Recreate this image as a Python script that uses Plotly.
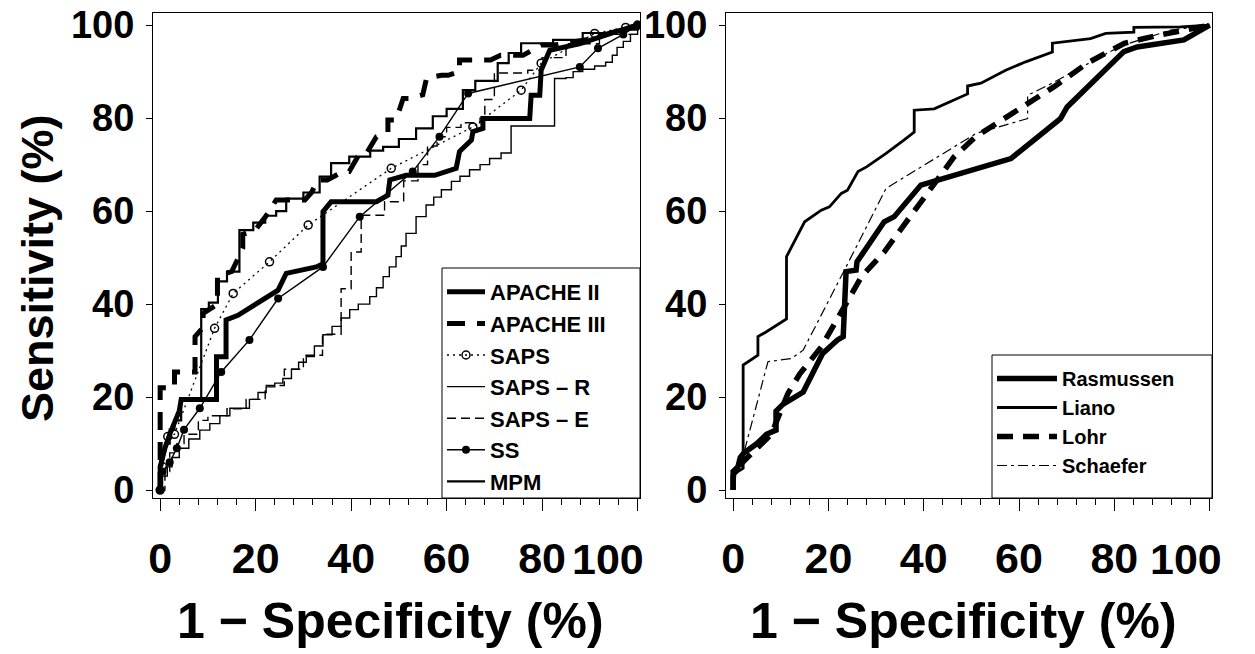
import plotly.graph_objects as go

# ---------------- data ----------------
tick_vals = [0, 20, 40, 60, 80, 100]
tick_text = ["0", "20", "40", "60", "80", "100"]

# Left panel
apache2_x = [0, 0, 1, 2, 4, 4.4, 11.8, 11.8, 13.8, 13.8, 16.3, 24.7, 26.4, 32.7, 34.1, 34.1, 35.8, 45.3, 47.7, 48.1, 51.5, 57.5, 62, 62.7, 65.2, 65.5, 67.6, 67.6, 77.4, 77.7, 79.5, 79.8, 81.6, 88, 95.5, 100]
apache2_y = [0, 5, 9, 12, 17, 19.5, 19.5, 28.7, 28.7, 36.6, 37.6, 43, 46.6, 48, 48.7, 59.9, 62, 62, 63.4, 66.7, 67.7, 67.7, 69.2, 72.8, 75.3, 77.1, 77.8, 79.9, 79.9, 84.9, 84.9, 90.3, 94.6, 96, 98.6, 100]

apache3_x = [0, 0, 3, 3, 7.3, 7.3, 9, 9, 12, 12, 15, 17.3, 17.3, 20, 22.2, 24.3, 30.3, 31.7, 33, 35, 38.3, 39.6, 41.8, 43.2, 45.3, 47.7, 47.7, 49.4, 50.9, 52.2, 55, 55.8, 58.9, 60.3, 62.7, 62.7, 64.8, 69.2, 71.3, 76, 79.8, 82.5, 90, 95, 100]
apache3_y = [0, 22, 22, 25.4, 25.4, 33, 35, 38, 40, 46, 47, 52, 55, 56, 59, 62.4, 62.4, 64, 66.7, 66.7, 68.5, 68.5, 72.4, 72.4, 76, 77, 79.6, 79.6, 84.2, 84.2, 85, 88.6, 89.2, 89.2, 90, 92.5, 92.5, 92.5, 93.5, 93.5, 95.7, 95.7, 97, 98.5, 100]

saps_x = [0, 0.5, 1.6, 3, 11.4, 15.3, 22.9, 31, 48.4, 65.5, 75.6, 79.8, 91, 97.5, 100]
saps_y = [0, 5, 11.5, 12, 34.8, 42.3, 49.1, 57, 69.2, 78.1, 86, 91.8, 98.2, 99.5, 100]

sapsr_x = [0, 0.5, 1.5, 2.5, 4, 6, 8.3, 10.4, 12.5, 14.6, 18.7, 20.5, 22.2, 24, 25.7, 27.5, 29, 30.6, 32.3, 34.1, 36, 37.9, 39.7, 41.5, 43.9, 45.3, 46.7, 48, 49.4, 50.5, 51.5, 53.6, 55.7, 57.3, 58.9, 61, 62.8, 64.8, 67, 69, 71.4, 73.5, 82.6, 85, 86.5, 88.5, 91, 93.3, 94.7, 95.7, 97, 98.5, 100]
sapsr_y = [0, 3, 5, 7, 9, 11, 12.9, 14.3, 16, 17.6, 19.5, 21, 22.2, 23, 24, 26, 27.5, 28.7, 31, 33.4, 35.2, 37, 38.8, 40, 41.6, 43.5, 45.9, 48, 50.2, 52.5, 55.2, 58.8, 61.3, 63, 64.6, 66.4, 67.5, 68.9, 70, 71.3, 72.5, 78.3, 88.5, 88.7, 90, 90.5, 91.2, 92, 93.5, 95.2, 96.5, 98, 100]

sapse_x = [0, 1, 2, 3.5, 5, 8, 10, 14, 18, 22, 26, 30, 34, 37.9, 37.9, 40, 40, 42.1, 42.1, 47, 51, 54, 56, 58, 60, 63, 67, 68, 70, 77, 80, 85, 92, 100]
sapse_y = [0, 4, 8, 10, 12, 15, 16, 17.5, 19.5, 22.5, 26, 29, 33.5, 36.9, 43.3, 43.3, 51.2, 51.2, 59.1, 62, 66.5, 70, 74, 76, 78, 79, 80, 84, 89.7, 90.3, 93, 96, 98, 100]

ss_x = [0, 0.5, 2, 3.5, 5, 8.3, 12.8, 18.7, 24.7, 34.1, 41.8, 52.9, 58.5, 64.5, 87.9, 91.7, 97, 100]
ss_y = [0, 4, 6, 9, 13, 17.6, 25.4, 32.3, 41.2, 48, 58.8, 68.5, 76, 85.3, 91, 95, 98, 100]

mpm_x = [0, 0, 1, 2, 3, 4.4, 8.6, 10.2, 12.1, 14, 16.6, 19.5, 22, 24.3, 26.4, 30, 33.4, 35.8, 39.6, 44, 46.7, 50, 53.6, 57.1, 60, 63.4, 66, 70.7, 73, 75.6, 82.3, 88.5, 95.5, 100]
mpm_y = [0, 8, 10, 13, 15, 19.3, 38.9, 40.3, 44.9, 47, 55.9, 57.5, 59, 60, 62.7, 64, 67.4, 70.3, 71.7, 73, 73.8, 75.5, 77.8, 80.4, 82, 86, 88, 91.8, 94, 96.1, 96.8, 98.3, 99, 100]

# Right panel
ras_x = [0, 0, 0.5, 1, 1.5, 2.2, 5, 7, 9, 9, 10.5, 14.7, 18.8, 21.9, 23.1, 23.7, 25.8, 26, 31.7, 33.8, 39.4, 58.3, 68.7, 70.1, 82, 84.8, 94.6, 100]
ras_y = [0, 4, 4.5, 5, 7, 7.9, 10, 12, 12.9, 17, 18.5, 21.1, 29.4, 32.3, 33, 47, 47.3, 49.1, 57.7, 58.8, 65.6, 71.3, 79.9, 82.4, 94.3, 95.3, 96.8, 100]

liano_x = [0, 0, 1, 2.1, 2.1, 5.2, 5.2, 6.9, 11.2, 11.2, 15, 18.5, 20.2, 22.7, 24, 26.2, 28, 32.1, 35.9, 38, 38, 42.2, 49.2, 49.2, 52, 57.2, 61.4, 67, 67, 75, 78.2, 84.1, 84.1, 93.9, 100]
liano_y = [0, 3, 4, 4.7, 26.9, 29, 33, 34, 36.8, 50.2, 57.7, 60.2, 60.9, 63.8, 64.5, 68.5, 69.5, 72.4, 75.3, 77, 81.7, 82, 85.2, 86.9, 87.5, 90.3, 92.1, 94.2, 96.1, 97.1, 98.2, 98.5, 99.5, 99.6, 100]

lohr_x = [0, 0, 2, 5, 8, 11.5, 14, 18.5, 21.9, 24.8, 27, 31.7, 35.9, 42.2, 46.4, 50.9, 60.4, 67.3, 74.3, 82.1, 88.3, 100]
lohr_y = [0, 3, 6, 9, 12, 20.8, 25, 30.8, 36.9, 42.6, 46, 51.2, 57, 66, 71.7, 76, 82.4, 86.7, 91.8, 96.1, 97.6, 100]

schaefer_x = [0, 0, 2, 7.3, 12.2, 14.7, 23.7, 32.1, 51, 61.8, 61.8, 67.3, 81.3, 91.8, 100]
schaefer_y = [0, 3, 7, 27.6, 28.3, 30.1, 48, 64.9, 76.7, 79.9, 84.9, 87.7, 95.5, 98.9, 100]

# ---------------- figure ----------------
FONT = "Liberation Sans, Arial, Helvetica, sans-serif"
BLK = "black"
XTF = 43

fig = go.Figure()

def add(x, y, name, xa, ya, legend, width, dash="solid", shape="linear", marker=None):
    kw = dict(x=x, y=y, name=name, xaxis=xa, yaxis=ya, legend=legend,
              line=dict(color=BLK, width=width, dash=dash, shape=shape),
              mode="lines" if marker is None else "lines+markers")
    if marker is not None:
        kw["marker"] = marker
    fig.add_trace(go.Scatter(**kw))

add(apache2_x, apache2_y, "APACHE II", "x", "y", "legend", 5)
add(apache3_x, apache3_y, "APACHE III", "x", "y", "legend", 5, dash="18px,12px")
add(saps_x, saps_y, "SAPS", "x", "y", "legend", 1.3, dash="2px,4px",
    marker=dict(symbol="circle-open", size=8, color=BLK, line=dict(width=1.5, color=BLK)))
add(sapsr_x, sapsr_y, "SAPS \u2013 R", "x", "y", "legend", 1.4, shape="hv")
add(sapse_x, sapse_y, "SAPS \u2013 E", "x", "y", "legend", 1.4, dash="9px,5px", shape="hv")
add(ss_x, ss_y, "SS", "x", "y", "legend", 1.4,
    marker=dict(symbol="circle", size=8, color=BLK))
add(mpm_x, mpm_y, "MPM", "x", "y", "legend", 2.2, shape="hv")

add(ras_x, ras_y, "Rasmussen", "x2", "y2", "legend2", 5.5)
add(liano_x, liano_y, "Liano", "x2", "y2", "legend2", 2.8)
add(lohr_x, lohr_y, "Lohr", "x2", "y2", "legend2", 5.5, dash="16px,10px")
add(schaefer_x, schaefer_y, "Schaefer", "x2", "y2", "legend2", 1.2, dash="10px,4px,3px,4px")

# last tick label ("100") is drawn separately, slightly shifted left as in the reference
xaxis_common = dict(range=[-1.5, 100.5], tickvals=tick_vals,
                    ticktext=tick_text[:-1] + [""],
                    tickangle=0, ticklabeloverflow="allow",
                    ticks="outside", ticklen=12, tickwidth=1, tickcolor=BLK,
                    minor=dict(dtick=4, tick0=0, ticks="outside", ticklen=6, tickwidth=1, tickcolor=BLK),
                    showline=True, linecolor=BLK, linewidth=1, mirror=True,
                    showgrid=False, zeroline=False, ticklabelstandoff=10, automargin=False,
                    tickfont=dict(family=FONT, size=XTF, color=BLK, weight="bold"))

yaxis_common = dict(range=[-1.7, 102.6], tickvals=tick_vals, ticktext=tick_text,
                    ticks="outside", ticklen=6, tickwidth=1, tickcolor=BLK,
                    ticklabeloverflow="allow", ticklabelstandoff=4,
                    showline=True, linecolor=BLK, linewidth=1, mirror=True,
                    showgrid=False, zeroline=False, automargin=False,
                    tickfont=dict(family=FONT, size=38, color=BLK, weight="bold"))

# The page body adds an 8px offset; work in window pixels and convert.
OFF = 8
W, H = 1255 - OFF, 654 - OFF
L, T = 153 - OFF, 13 - OFF
R = W - (1212 - OFF)
B = H - (498 - OFF)
pw = W - L - R
ph = H - T - B

def px_x(p):
    return (p - OFF - L) / pw

def px_y(p):
    return (H - B - (p - OFF)) / ph

fig.update_layout(
    width=W, height=H, margin=dict(l=L, r=R, t=T, b=B, autoexpand=False),
    paper_bgcolor="white", plot_bgcolor="white",
    font=dict(family=FONT, color=BLK),
    xaxis=dict(domain=[0, px_x(640)], anchor="y", **xaxis_common),
    yaxis=dict(domain=[0, 1], anchor="x", **yaxis_common),
    xaxis2=dict(domain=[px_x(726), 1], anchor="y2", **xaxis_common),
    yaxis2=dict(domain=[0, 1], anchor="x2", **yaxis_common),
    legend=dict(x=px_x(442), y=px_y(271), xanchor="left", yanchor="top",
                bgcolor="rgba(0,0,0,0)", borderwidth=0, itemwidth=38,
                font=dict(family=FONT, size=22, color=BLK, weight="bold"),
                tracegroupgap=0),
    legend2=dict(x=px_x(992), y=px_y(359), xanchor="left", yanchor="top",
                 bgcolor="rgba(0,0,0,0)", borderwidth=0, itemwidth=60,
                 font=dict(family=FONT, size=20, color=BLK, weight="bold"),
                 tracegroupgap=0),
    showlegend=True,
)

# "100" labels of the x axes, placed at x = 100 on each axis
for xr, shift in (("x", -30), ("x2", -24)):
    fig.add_annotation(text=tick_text[-1], xref=xr, yref="paper", x=tick_vals[-1], y=px_y(559),
                       xshift=shift, showarrow=False, xanchor="center", yanchor="middle",
                       font=dict(family=FONT, size=XTF, color=BLK, weight="bold"))

# legend frames
fig.add_shape(type="rect", xref="paper", yref="paper", x0=px_x(442), x1=px_x(640),
              y0=0, y1=px_y(268), line=dict(color=BLK, width=1), fillcolor="white", layer="above")
fig.add_shape(type="rect", xref="paper", yref="paper", x0=px_x(992), x1=1,
              y0=0, y1=px_y(355), line=dict(color=BLK, width=1), fillcolor="white", layer="above")

# axis titles
xt = "1 \u2212 Specificity (%)"
fig.add_annotation(text=xt, xref="paper", yref="paper", x=px_x(390), y=px_y(621),
                   showarrow=False, xanchor="center", yanchor="middle",
                   font=dict(family=FONT, size=50, color=BLK, weight="bold"))
fig.add_annotation(text=xt, xref="paper", yref="paper", x=px_x(963), y=px_y(621),
                   showarrow=False, xanchor="center", yanchor="middle",
                   font=dict(family=FONT, size=50, color=BLK, weight="bold"))
fig.add_annotation(text="Sensitivity (%)", xref="paper", yref="paper", x=px_x(37), y=px_y(268),
                   showarrow=False, xanchor="center", yanchor="middle", textangle=-90,
                   font=dict(family=FONT, size=45, color=BLK, weight="bold"))

fig.write_html("out.html")
